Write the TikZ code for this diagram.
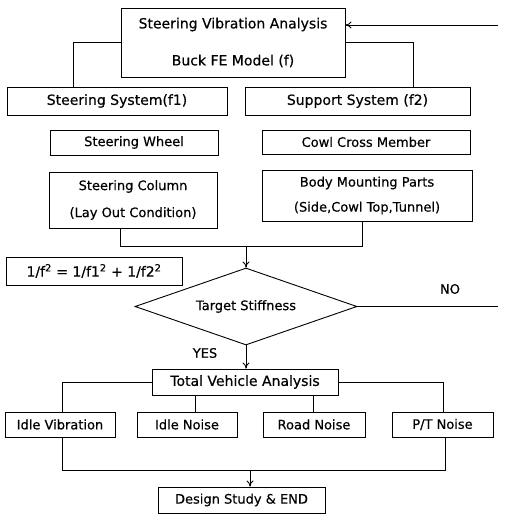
\documentclass[tikz,border=0pt]{standalone}
\usepackage{fontspec}
\setmainfont{DejaVu Sans}[FakeBold=0.4]
\usetikzlibrary{shapes.geometric,arrows.meta,calc}
\begin{document}
\begin{tikzpicture}[x=1pt,y=-1pt,
  line width=0.9pt,
  >={To[length=6pt,width=7pt]},
  box/.style={draw,rectangle,inner sep=0pt,font=\fontsize{13}{15}\selectfont},
  bigbox/.style={box,font=\fontsize{14}{16}\selectfont},
  lbl/.style={inner sep=0pt,font=\fontsize{13}{15}\selectfont}]
\useasboundingbox (0,0) rectangle (504,516);

\node[bigbox,minimum width=224pt,minimum height=69pt,align=center,font=\fontsize{14}{37}\selectfont] (top) at (233,42.5) {Steering Vibration Analysis\\Buck FE Model (f)};
\node[bigbox,minimum width=220pt,minimum height=28pt] (ss) at (117,101) {Steering System(f1)};
\node[bigbox,minimum width=225pt,minimum height=28pt] (sup) at (357.5,101) {Support System (f2)};
\node[box,minimum width=168pt,minimum height=25pt] (sw) at (134,142.5) {Steering Wheel};
\node[box,minimum width=208pt,minimum height=24pt] (ccm) at (366,142) {Cowl Cross Member};
\node[box,minimum width=168pt,minimum height=56pt,align=center,font=\fontsize{13}{27}\selectfont] (col) at (133,200) {Steering Column\\(Lay Out Condition)};
\node[box,minimum width=210pt,minimum height=51pt,align=center,font=\fontsize{13}{25}\selectfont] (body) at (367,195.5) {Body Mounting Parts\\(Side,Cowl Top,Tunnel)};
\node[bigbox,minimum width=176pt,minimum height=28pt] (form) at (94,271) {1/f\textsuperscript{2} = 1/f1\textsuperscript{2} + 1/f2\textsuperscript{2}};
\node[draw,diamond,aspect=2.9,inner sep=0pt,minimum width=222pt,minimum height=77pt,font=\fontsize{13}{15}\selectfont] (dia) at (246,306.5) {Target Stiffness};
\node[lbl] (no) at (450,289) {NO};
\node[lbl] (yes) at (205,353) {YES};
\node[bigbox,minimum width=186pt,minimum height=26pt] (tva) at (245,382) {Total Vehicle Analysis};
\node[box,minimum width=110pt,minimum height=25pt] (iv) at (60,424.5) {Idle Vibration};
\node[box,minimum width=100pt,minimum height=25pt] (in) at (187,424.5) {Idle Noise};
\node[box,minimum width=102pt,minimum height=25pt] (rn) at (314,424.5) {Road Noise};
\node[box,minimum width=101pt,minimum height=25pt] (pt) at (442.5,424.5) {P/T Noise};
\node[box,minimum width=167pt,minimum height=26pt] (ds) at (241.5,500) {Design Study \& END};

% feedback and NO line
\coordinate (fb) at (498,25);
\coordinate (noend) at (498,306.5);
\draw[->] (fb) -- (fb -| top.east);
\draw (dia.east) -- (noend);

% top branches
\coordinate (bl) at (73,0);
\coordinate (br) at (413,0);
\draw (top.west) -| (ss.north -| bl);
\draw (top.east) -| (sup.north -| br);

% merge to diamond
\coordinate (mL) at (120,246);
\coordinate (mR) at (362,246);
\coordinate (mM) at (246,246);
\draw (col.south -| mL) -- (mL) -- (mR) -- (body.south -| mR);
\draw[->] (mM) -- (dia.north);
\draw[->] (dia.south) -- (tva.north -| dia.south);

% TVA branches
\coordinate (x1) at (62,0);
\coordinate (x2) at (195,0);
\coordinate (x3) at (313,0);
\coordinate (x4) at (443,0);
\draw (tva.west) -| (iv.north -| x1);
\draw (tva.east) -| (pt.north -| x4);
\draw (tva.south -| x2) -- (in.north -| x2);
\draw (tva.south -| x3) -- (rn.north -| x3);

% bottom merge
\coordinate (bL) at (62,470);
\coordinate (bR) at (445,470);
\coordinate (bM) at (250,470);
\draw (iv.south -| bL) -- (bL) -- (bR) -- (pt.south -| bR);
\draw[->] (bM) -- (ds.north -| bM);
\end{tikzpicture}
\end{document}
